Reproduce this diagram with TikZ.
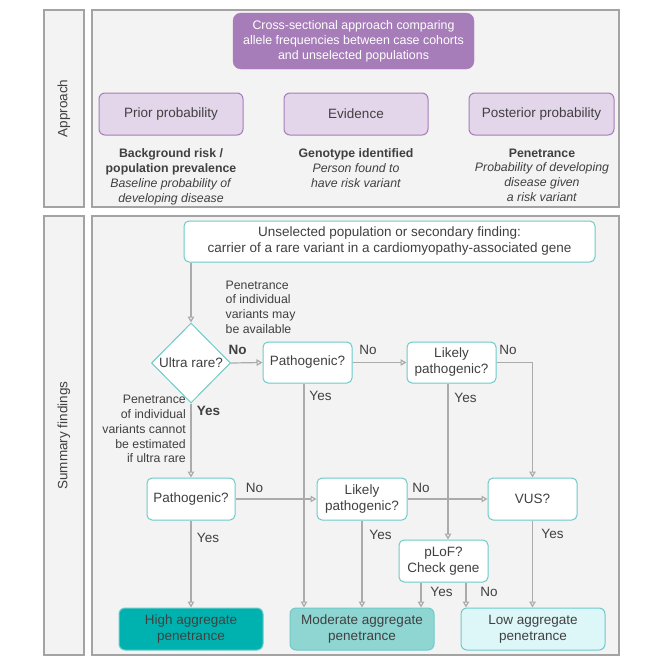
\documentclass[tikz,border=0pt]{standalone}
\usepackage{fontspec}
\setmainfont{Liberation Sans}
\usetikzlibrary{arrows.meta,shapes.geometric,calc}
\definecolor{txt}{HTML}{404040}
\definecolor{panelfill}{HTML}{F3F3F3}
\definecolor{panelline}{HTML}{A3A3A3}
\definecolor{purp}{HTML}{A67DB8}
\definecolor{purplight}{HTML}{E3D5EA}
\definecolor{teal}{HTML}{6CCBC8}
\definecolor{highfill}{HTML}{00B2AF}
\definecolor{modfill}{HTML}{8FD5D2}
\definecolor{lowfill}{HTML}{DDF6F8}
\definecolor{conncol}{HTML}{ABABAB}
\tikzset{
  panel/.style={draw=panelline, fill=panelfill, line width=1.1pt},
  bigfont/.style={font=\fontsize{13.5}{16}\selectfont},
  smallfont/.style={font=\fontsize{12.3}{14.8}\selectfont},
  purpbox/.style={draw=purp, fill=purplight, line width=1pt, rounded corners=6pt, minimum width=144pt, minimum height=42pt, text=txt, bigfont},
  topbox/.style={draw=purp, fill=purp, rounded corners=8pt, minimum width=241pt, minimum height=56pt, text=white, align=center, font=\fontsize{12.4}{15}\selectfont},
  blockarrow/.style={draw=none, line width=8.5pt, purp, -{Triangle[length=14pt,width=21pt]}},
  qbox/.style={draw=teal, fill=white, line width=1pt, rounded corners=5pt, minimum width=89pt, minimum height=42pt, text=txt, align=center, bigfont, inner sep=1pt},
  endbox/.style={draw=teal, line width=1pt, rounded corners=6pt, minimum width=144pt, minimum height=42pt, text=txt, align=center, bigfont, inner sep=1pt},
  conn/.style={draw=conncol, line width=1.2pt, -{Triangle[open, length=6pt, width=6.5pt]}},
  lab/.style={text=txt, bigfont, inner sep=0pt},
  blab/.style={text=txt, bigfont, inner sep=0pt, font=\fontsize{13.5}{16}\selectfont\bfseries},
  note/.style={text=txt, smallfont, inner sep=0pt},
  sidelab/.style={text=txt, bigfont, rotate=90},
}
\begin{document}
\begin{tikzpicture}[x=1pt,y=-1pt]
\useasboundingbox (0,0) rectangle (664,664);
% panels
\draw[panel] (44,10) rectangle (84,207);
\draw[panel] (92,10) rectangle (619,207);
\draw[panel] (44,216) rectangle (84,655);
\draw[panel] (92,216) rectangle (619,655);
\node[sidelab] (apprlab) at (64,108.5) {Approach};
\node[sidelab] (sumlab) at (64,435.5) {Summary findings};

% approach
\node[topbox] (cross) at (353.5,41) {Cross-sectional approach comparing\\allele frequencies between case cohorts\\and unselected populations};
\node[purpbox] (prior) at (171,114) {Prior probability};
\node[purpbox] (evid) at (356,114) {Evidence};
\node[purpbox, minimum width=145pt] (post) at (541.5,114) {Posterior probability};
\draw[blockarrow, shorten <=5pt, shorten >=6pt] (prior.east) -- (evid.west);
\draw[blockarrow, shorten <=6pt, shorten >=4pt] (evid.east) -- (post.west);
\draw[blockarrow, shorten >=3pt] (cross.south) -- (evid.north);

\node[note, anchor=north, align=center] (priortxt) at (171,148.5) {\textbf{Background risk /}\\\textbf{population prevalence}\\\textit{Baseline probability of}\\\textit{developing disease}};
\node[note, anchor=north, align=center] (evidtxt) at (356,148.5) {\textbf{Genotype identified}\\\textit{Person found to}\\\textit{have risk variant}};
\node[note, anchor=north, align=center] (posttxt) at (542,148.5) {\textbf{Penetrance}\\\textit{Probability of developing}\\\textit{disease given}\\\textit{a risk variant}};

% summary flow
\node[qbox, minimum width=411pt, minimum height=41pt] (start) at (389.5,241.5) {Unselected population or secondary finding:\\carrier of a rare variant in a cardiomyopathy-associated gene};
\node[draw=teal, fill=white, line width=1pt, diamond, aspect=1, inner sep=0pt, minimum width=79pt, minimum height=80pt, text=txt, bigfont] (dia) at (191,363) {Ultra rare?};
\node[qbox, minimum height=41pt] (path1) at (307.5,362.5) {Pathogenic?};
\node[qbox, minimum height=41pt] (lp1) at (451.5,362.5) {Likely\\pathogenic?};
\node[qbox, minimum width=88pt] (path2) at (191,499) {Pathogenic?};
\node[qbox, minimum width=90pt] (lp2) at (362,499) {Likely\\pathogenic?};
\node[qbox] (vus) at (532.5,499) {VUS?};
\node[qbox] (plof) at (443.5,561) {pLoF?\\Check gene};
\node[endbox, fill=highfill] (high) at (191,629) {High aggregate\\penetrance};
\node[endbox, fill=modfill] (mod) at (362,629) {Moderate aggregate\\penetrance};
\node[endbox, fill=lowfill] (low) at (533,629) {Low aggregate\\penetrance};

\draw[conn] (start.south -| dia.north) -- (dia.north);
\draw[conn] (dia.east) -- (path1.west);
\draw[conn] (path1.east) -- (lp1.west);
\draw[conn] (lp1.east) -| (vus.north);
\draw[conn] (dia.south) -- (path2.north);
\draw[conn] (path2.east) -- (lp2.west);
\draw[conn] (lp2.east) -- (vus.west);
\draw[conn] (path2.south) -- (high.north);
\draw[conn] ([xshift=-3.5pt]path1.south) -- ([xshift=-3.5pt]path1.south |- mod.north);
\draw[conn] ([xshift=-3.5pt]lp1.south) -- ([xshift=-3.5pt]lp1.south |- plof.north);
\draw[conn] (lp2.south) -- (mod.north);
\draw[conn] ([xshift=-22.5pt]plof.south) -- ([xshift=-22.5pt]plof.south |- mod.north);
\draw[conn] ([xshift=22.5pt]plof.south) -- ([xshift=22.5pt]plof.south |- low.north);
\draw[conn] (vus.south) -- (vus.south |- low.north);

% labels
\node[note, anchor=north west, align=left] (n1) at (225.5,280.5) {Penetrance\\of individual\\variants may\\be available};
\node[note, anchor=north east, align=right] (n2) at (186,395) {Penetrance\\of individual\\variants cannot\\be estimated\\if ultra rare};
\node[blab] (l1) at (237.5,350) {No};
\node[blab] (l2) at (208.5,411) {Yes};
\node[lab] (l3) at (320.5,395.5) {Yes};
\node[lab] (l4) at (368,349.5) {No};
\node[lab] (l5) at (508,349.5) {No};
\node[lab] (l6) at (465.5,397.5) {Yes};
\node[lab] (l7) at (254.5,488) {No};
\node[lab] (l8) at (208,537.5) {Yes};
\node[lab] (l9) at (421,487.5) {No};
\node[lab] (l10) at (380.5,534.5) {Yes};
\node[lab] (l11) at (441.5,592) {Yes};
\node[lab] (l12) at (489,592) {No};
\node[lab] (l13) at (552.5,533.5) {Yes};
\end{tikzpicture}
\end{document}
